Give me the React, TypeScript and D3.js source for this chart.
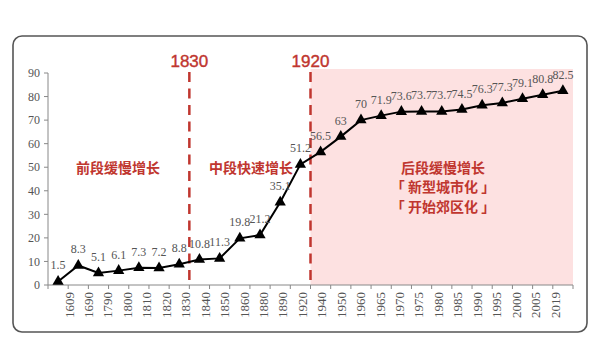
import React from "react";
import * as d3 from "d3";

const categories = ["1609","1690","1790","1800","1810","1820","1830","1840","1850","1860","1880","1890","1920","1940","1950","1960","1965","1970","1975","1980","1985","1990","1995","2000","2005","2019"];
const values = [1.5,8.3,5.1,6.1,7.3,7.2,8.8,10.8,11.3,19.8,21.2,35.1,51.2,56.5,63,70,71.9,73.6,73.7,73.7,74.5,76.3,77.3,79.1,80.8,82.5];
const yTicks = [0,10,20,30,40,50,60,70,80,90];
const markers = [{ after: "1830", label: "1830" }, { after: "1920", label: "1920" }];
const phaseLeft = "前段缓慢增长";
const phaseMid = "中段快速增长";
const phaseRight = ["后段缓慢增长", "「 新型城市化 」", "「 开始郊区化 」"];

const W = 600, H = 364;
const RED = "#c0362f";
const GRAY = "#555";
const SERIF = "'Liberation Serif', 'Times New Roman', serif";
const SANS = "'Noto Sans CJK SC', 'Liberation Sans', Arial, sans-serif";

export default function App() {
  const x = d3.scaleBand<string>().domain(categories).range([48, 573]).padding(0);
  const xl = d3.scalePoint<string>().domain(categories).range([69, 555]);
  const y = d3.scaleLinear().domain([0, 90]).range([285, 73]);
  const bw = x.bandwidth();
  const cx = (c: string) => (x(c) as number) + bw / 2;
  const line = d3.line<number>().x((_, i) => cx(categories[i])).y((v) => y(v));
  const tri = d3.symbol().type(d3.symbolTriangle).size(55)() as string;
  const boundary = (c: string) => (x(c) as number) + bw;
  const x1920 = boundary("1920");

  return (
    <svg width={W} height={H} style={{ position: "absolute", left: 0, top: 0, background: "#fff" }}>
      <rect x={0} y={0} width={W} height={H} fill="#fff" />
      <rect x={13} y={36} width={574} height={296} rx={9} fill="none" stroke="#555" strokeWidth={1.6} />
      {/* pink region */}
      <rect x={x1920} y={69} width={573 - x1920} height={y(0) - 69} fill="#fde1e1" />
      {/* y axis */}
      <line x1={48} x2={48} y1={y(90)} y2={y(0)} stroke="#888" strokeWidth={1} />
      {yTicks.map((t) => (
        <g key={t}>
          <line x1={44} x2={48} y1={y(t)} y2={y(t)} stroke="#888" />
          <text x={40} y={y(t)} dy="0.35em" textAnchor="end" fontFamily={SERIF} fontSize={12} fill={GRAY}>{t}</text>
        </g>
      ))}
      {/* x axis */}
      <line x1={48} x2={573} y1={y(0)} y2={y(0)} stroke="#888" strokeWidth={1} />
      {[...categories.map((c) => x(c) as number), 573].map((px, i) => (
        <line key={i} x1={px} x2={px} y1={y(0)} y2={y(0) + 4} stroke="#888" />
      ))}
      {categories.map((c) => (
        <text key={c} transform={`translate(${xl(c)},292) rotate(-90)`} textAnchor="end" dy="0.35em" fontFamily={SERIF} fontSize={13} fill={GRAY}>{c}</text>
      ))}
      {/* dashed markers */}
      {markers.map((m) => (
        <g key={m.label}>
          <line x1={boundary(m.after)} x2={boundary(m.after)} y1={72} y2={y(0)} stroke={RED} strokeWidth={2.5} strokeDasharray="10 6.5" />
          <text x={boundary(m.after)} y={67} textAnchor="middle" fontFamily="'Liberation Sans', Arial, sans-serif" fontSize={17} fill={RED} stroke={RED} strokeWidth={0.4}>{m.label}</text>
        </g>
      ))}
      {/* phase texts */}
      <text x={118} y={168} dy="0.35em" textAnchor="middle" fontFamily={SANS} fontWeight={700} fontSize={14} fill={RED}>{phaseLeft}</text>
      <text x={251} y={168} dy="0.35em" textAnchor="middle" fontFamily={SANS} fontWeight={700} fontSize={14} fill={RED}>{phaseMid}</text>
      {phaseRight.map((t, i) => (
        <text key={t} x={443} y={168 + i * 19.5} dy="0.35em" textAnchor="middle" fontFamily={SANS} fontWeight={700} fontSize={14} fill={RED}>{t}</text>
      ))}
      {/* data line */}
      <path d={line(values) as string} fill="none" stroke="#000" strokeWidth={2} />
      {values.map((v, i) => (
        <path key={i} d={tri} transform={`translate(${cx(categories[i])},${y(v)})`} fill="#000" />
      ))}
      {values.map((v, i) => (
        <text key={i} x={cx(categories[i])} y={y(v) - 12} textAnchor="middle" fontFamily={SERIF} fontSize={12} fill={GRAY}>{v}</text>
      ))}
    </svg>
  );
}
